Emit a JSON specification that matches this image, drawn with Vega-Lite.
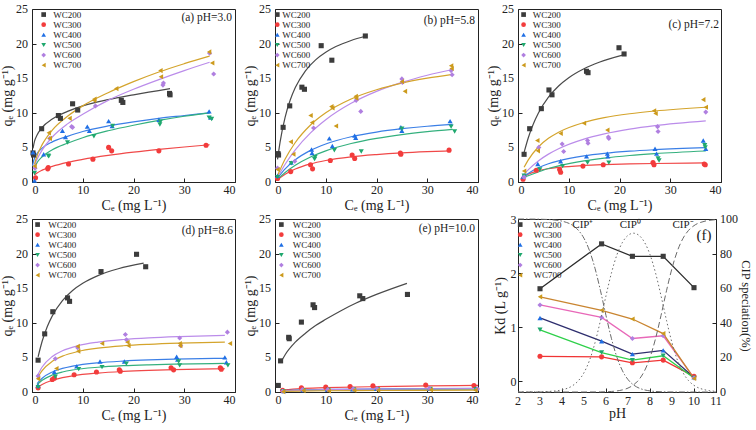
{
"$schema":"https://vega.github.io/schema/vega-lite/v6.json",
"padding":{"left":0,"top":2,"right":0,"bottom":0},
"config":{"font":"Liberation Serif","view":{"stroke":"#222","strokeWidth":1},
"axis":{"grid":false,"domainColor":"#222","tickColor":"#222","tickSize":-4,"labelPadding":6,"labelOverlap":false,"labelFont":"Liberation Serif","labelFontSize":12,"labelColor":"#222","titleFont":"Liberation Serif","titleFontSize":14,"titleFontWeight":"normal","titleColor":"#222","titlePadding":3}},
"datasets":{
"leg":[{"s":"WC200"},{"s":"WC300"},{"s":"WC400"},{"s":"WC500"},{"s":"WC600"},{"s":"WC700"}],
"yt":[{"v":0},{"v":5},{"v":10},{"v":15},{"v":20},{"v":25}],
"xt":[{"v":2},{"v":3},{"v":4},{"v":5},{"v":6},{"v":7},{"v":8},{"v":9},{"v":10},{"v":11}],
"rt":[{"v":0},{"v":20},{"v":40},{"v":60},{"v":80},{"v":100}],
"pts":[
{"p":"a","s":"WC200","x":0.2,"y":4.2},{"p":"a","s":"WC200","x":0.3,"y":3.9},{"p":"a","s":"WC200","x":1.9,"y":7.7},{"p":"a","s":"WC200","x":5.2,"y":9.6},{"p":"a","s":"WC200","x":5.6,"y":9.2},{"p":"a","s":"WC200","x":8.0,"y":11.3},{"p":"a","s":"WC200","x":9.0,"y":10.4},{"p":"a","s":"WC200","x":17.6,"y":11.8},{"p":"a","s":"WC200","x":17.9,"y":11.5},{"p":"a","s":"WC200","x":27.1,"y":12.8},{"p":"a","s":"WC200","x":27.2,"y":12.6},
{"p":"a","s":"WC300","x":0.7,"y":0.6},{"p":"a","s":"WC300","x":3.1,"y":1.9},{"p":"a","s":"WC300","x":3.2,"y":2.1},{"p":"a","s":"WC300","x":7.2,"y":2.6},{"p":"a","s":"WC300","x":12.0,"y":3.3},{"p":"a","s":"WC300","x":15.1,"y":5.0},{"p":"a","s":"WC300","x":15.7,"y":4.5},{"p":"a","s":"WC300","x":25.0,"y":4.5},{"p":"a","s":"WC300","x":34.3,"y":5.3},
{"p":"a","s":"WC400","x":0.2,"y":4.3},{"p":"a","s":"WC400","x":0.5,"y":0.2},{"p":"a","s":"WC400","x":2.3,"y":4.0},{"p":"a","s":"WC400","x":6.0,"y":7.4},{"p":"a","s":"WC400","x":6.6,"y":6.5},{"p":"a","s":"WC400","x":10.9,"y":8.0},{"p":"a","s":"WC400","x":11.3,"y":7.4},{"p":"a","s":"WC400","x":15.1,"y":8.8},{"p":"a","s":"WC400","x":15.8,"y":8.1},{"p":"a","s":"WC400","x":25.0,"y":9.0},{"p":"a","s":"WC400","x":34.9,"y":10.2},{"p":"a","s":"WC400","x":35.2,"y":9.3},
{"p":"a","s":"WC500","x":0.5,"y":1.3},{"p":"a","s":"WC500","x":3.2,"y":3.8},{"p":"a","s":"WC500","x":3.3,"y":3.7},{"p":"a","s":"WC500","x":7.0,"y":5.7},{"p":"a","s":"WC500","x":12.2,"y":6.6},{"p":"a","s":"WC500","x":15.9,"y":8.1},{"p":"a","s":"WC500","x":25.2,"y":8.3},{"p":"a","s":"WC500","x":25.3,"y":8.7},{"p":"a","s":"WC500","x":34.9,"y":9.3},{"p":"a","s":"WC500","x":35.4,"y":9.1},
{"p":"a","s":"WC600","x":0.6,"y":2.0},{"p":"a","s":"WC600","x":3.5,"y":6.3},{"p":"a","s":"WC600","x":7.8,"y":8.0},{"p":"a","s":"WC600","x":8.0,"y":7.9},{"p":"a","s":"WC600","x":12.5,"y":11.0},{"p":"a","s":"WC600","x":25.8,"y":14.0},{"p":"a","s":"WC600","x":25.9,"y":14.3},{"p":"a","s":"WC600","x":35.0,"y":18.6},{"p":"a","s":"WC600","x":35.8,"y":15.6},
{"p":"a","s":"WC700","x":0.5,"y":2.3},{"p":"a","s":"WC700","x":3.3,"y":7.1},{"p":"a","s":"WC700","x":3.5,"y":6.3},{"p":"a","s":"WC700","x":7.4,"y":9.2},{"p":"a","s":"WC700","x":12.2,"y":11.8},{"p":"a","s":"WC700","x":12.3,"y":12.0},{"p":"a","s":"WC700","x":16.6,"y":13.5},{"p":"a","s":"WC700","x":25.3,"y":16.1},{"p":"a","s":"WC700","x":25.4,"y":15.2},{"p":"a","s":"WC700","x":34.9,"y":18.8},{"p":"a","s":"WC700","x":35.5,"y":17.2},
{"p":"b","s":"WC200","x":0.6,"y":4.1},{"p":"b","s":"WC200","x":0.7,"y":3.9},{"p":"b","s":"WC200","x":1.6,"y":7.9},{"p":"b","s":"WC200","x":2.9,"y":11.0},{"p":"b","s":"WC200","x":5.3,"y":13.7},{"p":"b","s":"WC200","x":5.8,"y":13.4},{"p":"b","s":"WC200","x":9.1,"y":19.7},{"p":"b","s":"WC200","x":11.2,"y":17.6},{"p":"b","s":"WC200","x":17.8,"y":21.1},
{"p":"b","s":"WC300","x":0.5,"y":0.5},{"p":"b","s":"WC300","x":3.1,"y":1.5},{"p":"b","s":"WC300","x":7.0,"y":2.5},{"p":"b","s":"WC300","x":7.4,"y":1.9},{"p":"b","s":"WC300","x":10.9,"y":3.1},{"p":"b","s":"WC300","x":15.2,"y":3.9},{"p":"b","s":"WC300","x":15.7,"y":3.4},{"p":"b","s":"WC300","x":24.7,"y":4.2},{"p":"b","s":"WC300","x":24.8,"y":4.0},{"p":"b","s":"WC300","x":34.3,"y":4.6},
{"p":"b","s":"WC400","x":0.5,"y":0.9},{"p":"b","s":"WC400","x":3.2,"y":2.8},{"p":"b","s":"WC400","x":7.2,"y":4.7},{"p":"b","s":"WC400","x":7.3,"y":4.2},{"p":"b","s":"WC400","x":10.7,"y":6.3},{"p":"b","s":"WC400","x":11.3,"y":5.2},{"p":"b","s":"WC400","x":15.7,"y":6.7},{"p":"b","s":"WC400","x":15.9,"y":6.4},{"p":"b","s":"WC400","x":24.8,"y":7.9},{"p":"b","s":"WC400","x":25.0,"y":7.4},{"p":"b","s":"WC400","x":34.5,"y":8.8},
{"p":"b","s":"WC500","x":0.5,"y":0.7},{"p":"b","s":"WC500","x":3.2,"y":2.7},{"p":"b","s":"WC500","x":7.8,"y":3.3},{"p":"b","s":"WC500","x":7.9,"y":3.6},{"p":"b","s":"WC500","x":11.7,"y":4.6},{"p":"b","s":"WC500","x":17.0,"y":4.4},{"p":"b","s":"WC500","x":25.0,"y":7.7},{"p":"b","s":"WC500","x":34.7,"y":8.0},{"p":"b","s":"WC500","x":35.4,"y":7.3},
{"p":"b","s":"WC600","x":0.5,"y":2.0},{"p":"b","s":"WC600","x":3.9,"y":3.0},{"p":"b","s":"WC600","x":7.6,"y":7.8},{"p":"b","s":"WC600","x":16.0,"y":11.8},{"p":"b","s":"WC600","x":16.9,"y":10.2},{"p":"b","s":"WC600","x":25.0,"y":14.9},{"p":"b","s":"WC600","x":25.1,"y":14.4},{"p":"b","s":"WC600","x":34.7,"y":16.1},{"p":"b","s":"WC600","x":34.9,"y":15.5},
{"p":"b","s":"WC700","x":0.5,"y":1.8},{"p":"b","s":"WC700","x":3.1,"y":5.8},{"p":"b","s":"WC700","x":3.6,"y":4.0},{"p":"b","s":"WC700","x":7.0,"y":9.6},{"p":"b","s":"WC700","x":7.3,"y":8.6},{"p":"b","s":"WC700","x":11.1,"y":10.9},{"p":"b","s":"WC700","x":11.3,"y":10.7},{"p":"b","s":"WC700","x":12.0,"y":8.1},{"p":"b","s":"WC700","x":15.9,"y":12.4},{"p":"b","s":"WC700","x":16.0,"y":12.1},{"p":"b","s":"WC700","x":25.0,"y":14.5},{"p":"b","s":"WC700","x":25.6,"y":13.1},{"p":"b","s":"WC700","x":34.7,"y":16.8},{"p":"b","s":"WC700","x":34.8,"y":16.4},
{"p":"c","s":"WC200","x":1.2,"y":4.0},{"p":"c","s":"WC200","x":2.3,"y":7.7},{"p":"c","s":"WC200","x":4.6,"y":10.6},{"p":"c","s":"WC200","x":6.1,"y":13.3},{"p":"c","s":"WC200","x":6.7,"y":12.6},{"p":"c","s":"WC200","x":13.5,"y":16.0},{"p":"c","s":"WC200","x":13.8,"y":15.8},{"p":"c","s":"WC200","x":19.9,"y":19.4},{"p":"c","s":"WC200","x":20.9,"y":18.5},
{"p":"c","s":"WC300","x":1.0,"y":0.4},{"p":"c","s":"WC300","x":3.6,"y":1.7},{"p":"c","s":"WC300","x":8.2,"y":1.8},{"p":"c","s":"WC300","x":8.4,"y":1.4},{"p":"c","s":"WC300","x":12.8,"y":2.3},{"p":"c","s":"WC300","x":16.8,"y":2.5},{"p":"c","s":"WC300","x":26.6,"y":2.8},{"p":"c","s":"WC300","x":26.8,"y":2.5},{"p":"c","s":"WC300","x":36.7,"y":2.6},{"p":"c","s":"WC300","x":36.9,"y":2.5},
{"p":"c","s":"WC400","x":1.0,"y":0.8},{"p":"c","s":"WC400","x":3.9,"y":2.6},{"p":"c","s":"WC400","x":8.4,"y":3.0},{"p":"c","s":"WC400","x":13.5,"y":3.7},{"p":"c","s":"WC400","x":17.6,"y":4.1},{"p":"c","s":"WC400","x":17.7,"y":3.7},{"p":"c","s":"WC400","x":27.0,"y":4.8},{"p":"c","s":"WC400","x":27.3,"y":4.1},{"p":"c","s":"WC400","x":36.5,"y":6.0},{"p":"c","s":"WC400","x":37.0,"y":4.8},
{"p":"c","s":"WC500","x":1.2,"y":0.9},{"p":"c","s":"WC500","x":4.3,"y":1.8},{"p":"c","s":"WC500","x":8.8,"y":2.3},{"p":"c","s":"WC500","x":13.7,"y":2.8},{"p":"c","s":"WC500","x":17.9,"y":2.8},{"p":"c","s":"WC500","x":27.6,"y":3.4},{"p":"c","s":"WC500","x":27.8,"y":3.1},{"p":"c","s":"WC500","x":36.8,"y":5.3},{"p":"c","s":"WC500","x":36.9,"y":5.0},
{"p":"c","s":"WC600","x":1.2,"y":0.7},{"p":"c","s":"WC600","x":4.1,"y":5.0},{"p":"c","s":"WC600","x":8.7,"y":5.5},{"p":"c","s":"WC600","x":9.0,"y":4.4},{"p":"c","s":"WC600","x":13.7,"y":6.0},{"p":"c","s":"WC600","x":13.8,"y":5.6},{"p":"c","s":"WC600","x":17.8,"y":6.5},{"p":"c","s":"WC600","x":17.9,"y":6.3},{"p":"c","s":"WC600","x":27.5,"y":8.0},{"p":"c","s":"WC600","x":27.6,"y":7.3},{"p":"c","s":"WC600","x":37.0,"y":10.1},
{"p":"c","s":"WC700","x":1.2,"y":1.6},{"p":"c","s":"WC700","x":3.8,"y":6.0},{"p":"c","s":"WC700","x":3.9,"y":4.5},{"p":"c","s":"WC700","x":8.4,"y":7.0},{"p":"c","s":"WC700","x":13.0,"y":8.5},{"p":"c","s":"WC700","x":17.6,"y":7.5},{"p":"c","s":"WC700","x":26.8,"y":10.3},{"p":"c","s":"WC700","x":27.1,"y":9.9},{"p":"c","s":"WC700","x":36.5,"y":11.9},{"p":"c","s":"WC700","x":37.0,"y":10.8},
{"p":"d","s":"WC200","x":1.2,"y":4.6},{"p":"d","s":"WC200","x":2.5,"y":8.4},{"p":"d","s":"WC200","x":4.1,"y":11.6},{"p":"d","s":"WC200","x":7.0,"y":13.6},{"p":"d","s":"WC200","x":7.4,"y":13.1},{"p":"d","s":"WC200","x":13.6,"y":17.4},{"p":"d","s":"WC200","x":20.6,"y":19.9},{"p":"d","s":"WC200","x":22.4,"y":18.1},
{"p":"d","s":"WC300","x":1.2,"y":0.6},{"p":"d","s":"WC300","x":4.0,"y":1.8},{"p":"d","s":"WC300","x":4.4,"y":2.0},{"p":"d","s":"WC300","x":8.3,"y":2.5},{"p":"d","s":"WC300","x":12.7,"y":2.9},{"p":"d","s":"WC300","x":17.2,"y":3.2},{"p":"d","s":"WC300","x":17.4,"y":3.0},{"p":"d","s":"WC300","x":27.4,"y":3.5},{"p":"d","s":"WC300","x":27.9,"y":3.2},{"p":"d","s":"WC300","x":37.1,"y":3.5},{"p":"d","s":"WC300","x":37.3,"y":3.3},
{"p":"d","s":"WC400","x":1.2,"y":0.95},{"p":"d","s":"WC400","x":4.4,"y":2.9},{"p":"d","s":"WC400","x":8.8,"y":3.7},{"p":"d","s":"WC400","x":13.4,"y":4.4},{"p":"d","s":"WC400","x":18.2,"y":4.4},{"p":"d","s":"WC400","x":28.5,"y":5.1},{"p":"d","s":"WC400","x":28.7,"y":4.7},{"p":"d","s":"WC400","x":38.0,"y":5.0},{"p":"d","s":"WC400","x":38.3,"y":4.3},
{"p":"d","s":"WC500","x":1.2,"y":0.7},{"p":"d","s":"WC500","x":4.6,"y":2.2},{"p":"d","s":"WC500","x":9.2,"y":3.3},{"p":"d","s":"WC500","x":13.8,"y":3.6},{"p":"d","s":"WC500","x":18.6,"y":4.1},{"p":"d","s":"WC500","x":28.9,"y":4.4},{"p":"d","s":"WC500","x":29.1,"y":3.85},{"p":"d","s":"WC500","x":38.6,"y":3.85},
{"p":"d","s":"WC600","x":1.2,"y":2.3},{"p":"d","s":"WC600","x":4.6,"y":4.8},{"p":"d","s":"WC600","x":9.0,"y":6.4},{"p":"d","s":"WC600","x":18.4,"y":8.3},{"p":"d","s":"WC600","x":18.6,"y":7.55},{"p":"d","s":"WC600","x":29.1,"y":7.8},{"p":"d","s":"WC600","x":29.3,"y":6.7},{"p":"d","s":"WC600","x":38.5,"y":8.65},
{"p":"d","s":"WC700","x":1.2,"y":1.9},{"p":"d","s":"WC700","x":4.8,"y":3.4},{"p":"d","s":"WC700","x":9.0,"y":6.6},{"p":"d","s":"WC700","x":9.1,"y":5.9},{"p":"d","s":"WC700","x":13.8,"y":7.0},{"p":"d","s":"WC700","x":18.8,"y":7.2},{"p":"d","s":"WC700","x":19.0,"y":6.7},{"p":"d","s":"WC700","x":29.1,"y":7.0},{"p":"d","s":"WC700","x":29.2,"y":6.7},{"p":"d","s":"WC700","x":39.0,"y":7.0},
{"p":"e","s":"WC200","x":0.65,"y":0.95},{"p":"e","s":"WC200","x":1.1,"y":4.5},{"p":"e","s":"WC200","x":2.7,"y":7.9},{"p":"e","s":"WC200","x":2.8,"y":7.7},{"p":"e","s":"WC200","x":5.2,"y":10.1},{"p":"e","s":"WC200","x":7.5,"y":12.6},{"p":"e","s":"WC200","x":7.8,"y":12.2},{"p":"e","s":"WC200","x":16.7,"y":13.9},{"p":"e","s":"WC200","x":17.3,"y":13.5},{"p":"e","s":"WC200","x":26.1,"y":14.1},
{"p":"e","s":"WC300","x":1.5,"y":0.25},{"p":"e","s":"WC300","x":5.2,"y":0.6},{"p":"e","s":"WC300","x":10.0,"y":0.7},{"p":"e","s":"WC300","x":14.8,"y":0.8},{"p":"e","s":"WC300","x":19.3,"y":0.9},{"p":"e","s":"WC300","x":29.7,"y":1.0},{"p":"e","s":"WC300","x":39.2,"y":0.95},
{"p":"e","s":"WC400","x":1.7,"y":0.15},{"p":"e","s":"WC400","x":5.5,"y":0.3},{"p":"e","s":"WC400","x":10.3,"y":0.35},{"p":"e","s":"WC400","x":15.3,"y":0.4},{"p":"e","s":"WC400","x":20.0,"y":0.45},{"p":"e","s":"WC400","x":30.5,"y":0.5},{"p":"e","s":"WC400","x":39.7,"y":0.5},
{"p":"e","s":"WC500","x":1.6,"y":0.1},{"p":"e","s":"WC500","x":5.6,"y":0.25},{"p":"e","s":"WC500","x":10.5,"y":0.3},{"p":"e","s":"WC500","x":15.5,"y":0.35},{"p":"e","s":"WC500","x":20.2,"y":0.4},{"p":"e","s":"WC500","x":30.6,"y":0.45},{"p":"e","s":"WC500","x":39.6,"y":0.4},
{"p":"e","s":"WC600","x":1.5,"y":0.1},{"p":"e","s":"WC600","x":5.4,"y":0.35},{"p":"e","s":"WC600","x":10.4,"y":0.35},{"p":"e","s":"WC600","x":15.4,"y":0.45},{"p":"e","s":"WC600","x":20.1,"y":0.5},{"p":"e","s":"WC600","x":30.4,"y":0.55},{"p":"e","s":"WC600","x":39.9,"y":0.45},
{"p":"e","s":"WC700","x":1.6,"y":0.05},{"p":"e","s":"WC700","x":5.6,"y":0.2},{"p":"e","s":"WC700","x":10.6,"y":0.15},{"p":"e","s":"WC700","x":15.6,"y":0.25},{"p":"e","s":"WC700","x":20.3,"y":0.25},{"p":"e","s":"WC700","x":30.7,"y":0.3},{"p":"e","s":"WC700","x":39.5,"y":0.25}
],
"fit":[
{"p":"a","s":"WC200","x":0.2,"y":4.85},{"p":"a","s":"WC200","x":0.5,"y":5.9},{"p":"a","s":"WC200","x":1,"y":6.8},{"p":"a","s":"WC200","x":2,"y":7.9},{"p":"a","s":"WC200","x":4,"y":9.1},{"p":"a","s":"WC200","x":7,"y":10.2},{"p":"a","s":"WC200","x":10,"y":11.0},{"p":"a","s":"WC200","x":15,"y":11.9},{"p":"a","s":"WC200","x":20,"y":12.6},{"p":"a","s":"WC200","x":27.2,"y":13.5},
{"p":"a","s":"WC300","x":0.5,"y":0.99},{"p":"a","s":"WC300","x":1,"y":1.3},{"p":"a","s":"WC300","x":2,"y":1.72},{"p":"a","s":"WC300","x":4,"y":2.26},{"p":"a","s":"WC300","x":7,"y":2.84},{"p":"a","s":"WC300","x":10,"y":3.27},{"p":"a","s":"WC300","x":15,"y":3.84},{"p":"a","s":"WC300","x":20,"y":4.31},{"p":"a","s":"WC300","x":25,"y":4.71},{"p":"a","s":"WC300","x":30,"y":5.06},{"p":"a","s":"WC300","x":35,"y":5.38},
{"p":"a","s":"WC400","x":0.1,"y":2.3},{"p":"a","s":"WC400","x":0.3,"y":3.0},{"p":"a","s":"WC400","x":1,"y":4.1},{"p":"a","s":"WC400","x":2,"y":4.9},{"p":"a","s":"WC400","x":4,"y":5.8},{"p":"a","s":"WC400","x":7,"y":6.6},{"p":"a","s":"WC400","x":10,"y":7.3},{"p":"a","s":"WC400","x":15,"y":8.1},{"p":"a","s":"WC400","x":20,"y":8.7},{"p":"a","s":"WC400","x":25,"y":9.2},{"p":"a","s":"WC400","x":30,"y":9.6},{"p":"a","s":"WC400","x":35,"y":10.0},
{"p":"a","s":"WC500","x":0.5,"y":2.1},{"p":"a","s":"WC500","x":1,"y":2.8},{"p":"a","s":"WC500","x":2,"y":3.65},{"p":"a","s":"WC500","x":4,"y":4.66},{"p":"a","s":"WC500","x":7,"y":5.6},{"p":"a","s":"WC500","x":10,"y":6.4},{"p":"a","s":"WC500","x":15,"y":7.4},{"p":"a","s":"WC500","x":20,"y":8.2},{"p":"a","s":"WC500","x":25,"y":8.9},{"p":"a","s":"WC500","x":30,"y":9.5},{"p":"a","s":"WC500","x":35,"y":10.0},
{"p":"a","s":"WC600","x":0.5,"y":2.4},{"p":"a","s":"WC600","x":1,"y":3.3},{"p":"a","s":"WC600","x":2,"y":4.6},{"p":"a","s":"WC600","x":4,"y":6.5},{"p":"a","s":"WC600","x":7,"y":8.4},{"p":"a","s":"WC600","x":10,"y":9.8},{"p":"a","s":"WC600","x":15,"y":11.8},{"p":"a","s":"WC600","x":20,"y":13.4},{"p":"a","s":"WC600","x":25,"y":14.8},{"p":"a","s":"WC600","x":30,"y":16.1},{"p":"a","s":"WC600","x":35,"y":17.3},
{"p":"a","s":"WC700","x":0.5,"y":2.6},{"p":"a","s":"WC700","x":1,"y":3.8},{"p":"a","s":"WC700","x":2,"y":5.4},{"p":"a","s":"WC700","x":4,"y":7.5},{"p":"a","s":"WC700","x":7,"y":9.5},{"p":"a","s":"WC700","x":10,"y":11.0},{"p":"a","s":"WC700","x":15,"y":12.9},{"p":"a","s":"WC700","x":20,"y":14.5},{"p":"a","s":"WC700","x":25,"y":15.9},{"p":"a","s":"WC700","x":30,"y":17.1},{"p":"a","s":"WC700","x":35,"y":18.2},
{"p":"b","s":"WC200","x":0.5,"y":3.26},{"p":"b","s":"WC200","x":1,"y":5.77},{"p":"b","s":"WC200","x":2,"y":9.38},{"p":"b","s":"WC200","x":3,"y":11.84},{"p":"b","s":"WC200","x":4,"y":13.64},{"p":"b","s":"WC200","x":6,"y":16.07},{"p":"b","s":"WC200","x":8,"y":17.65},{"p":"b","s":"WC200","x":10,"y":18.75},{"p":"b","s":"WC200","x":12,"y":19.57},{"p":"b","s":"WC200","x":15,"y":20.45},{"p":"b","s":"WC200","x":17.8,"y":21.06},
{"p":"b","s":"WC300","x":0.5,"y":0.34},{"p":"b","s":"WC300","x":2,"y":1.13},{"p":"b","s":"WC300","x":4,"y":1.88},{"p":"b","s":"WC300","x":7,"y":2.62},{"p":"b","s":"WC300","x":10,"y":3.11},{"p":"b","s":"WC300","x":15,"y":3.64},{"p":"b","s":"WC300","x":20,"y":3.97},{"p":"b","s":"WC300","x":25,"y":4.21},{"p":"b","s":"WC300","x":30,"y":4.38},{"p":"b","s":"WC300","x":34.5,"y":4.5},
{"p":"b","s":"WC400","x":0.5,"y":0.55},{"p":"b","s":"WC400","x":2,"y":1.89},{"p":"b","s":"WC400","x":4,"y":3.21},{"p":"b","s":"WC400","x":7,"y":4.57},{"p":"b","s":"WC400","x":10,"y":5.5},{"p":"b","s":"WC400","x":15,"y":6.54},{"p":"b","s":"WC400","x":20,"y":7.22},{"p":"b","s":"WC400","x":25,"y":7.7},{"p":"b","s":"WC400","x":30,"y":8.06},{"p":"b","s":"WC400","x":35,"y":8.33},
{"p":"b","s":"WC500","x":0.5,"y":0.38},{"p":"b","s":"WC500","x":2,"y":1.37},{"p":"b","s":"WC500","x":4,"y":2.42},{"p":"b","s":"WC500","x":7,"y":3.61},{"p":"b","s":"WC500","x":10,"y":4.5},{"p":"b","s":"WC500","x":15,"y":5.56},{"p":"b","s":"WC500","x":20,"y":6.3},{"p":"b","s":"WC500","x":25,"y":6.85},{"p":"b","s":"WC500","x":30,"y":7.27},{"p":"b","s":"WC500","x":35,"y":7.6},
{"p":"b","s":"WC600","x":0.5,"y":0.7},{"p":"b","s":"WC600","x":2,"y":2.57},{"p":"b","s":"WC600","x":4,"y":4.65},{"p":"b","s":"WC600","x":7,"y":7.1},{"p":"b","s":"WC600","x":10,"y":9.0},{"p":"b","s":"WC600","x":15,"y":11.37},{"p":"b","s":"WC600","x":20,"y":13.1},{"p":"b","s":"WC600","x":25,"y":14.4},{"p":"b","s":"WC600","x":30,"y":15.43},{"p":"b","s":"WC600","x":35,"y":16.26},
{"p":"b","s":"WC700","x":0.5,"y":0.95},{"p":"b","s":"WC700","x":2,"y":3.33},{"p":"b","s":"WC700","x":4,"y":5.71},{"p":"b","s":"WC700","x":7,"y":8.24},{"p":"b","s":"WC700","x":10,"y":10.0},{"p":"b","s":"WC700","x":15,"y":12.0},{"p":"b","s":"WC700","x":20,"y":13.33},{"p":"b","s":"WC700","x":25,"y":14.29},{"p":"b","s":"WC700","x":30,"y":15.0},{"p":"b","s":"WC700","x":35,"y":15.56},
{"p":"c","s":"WC200","x":1.2,"y":4.27},{"p":"c","s":"WC200","x":2,"y":6.33},{"p":"c","s":"WC200","x":3,"y":8.35},{"p":"c","s":"WC200","x":4,"y":9.93},{"p":"c","s":"WC200","x":6,"y":12.25},{"p":"c","s":"WC200","x":8,"y":13.87},{"p":"c","s":"WC200","x":10,"y":15.07},{"p":"c","s":"WC200","x":13,"y":16.37},{"p":"c","s":"WC200","x":16,"y":17.3},{"p":"c","s":"WC200","x":20.8,"y":18.36},
{"p":"c","s":"WC300","x":1,"y":0.69},{"p":"c","s":"WC300","x":2,"y":1.13},{"p":"c","s":"WC300","x":4,"y":1.64},{"p":"c","s":"WC300","x":6,"y":1.93},{"p":"c","s":"WC300","x":8,"y":2.12},{"p":"c","s":"WC300","x":13,"y":2.39},{"p":"c","s":"WC300","x":17,"y":2.51},{"p":"c","s":"WC300","x":22,"y":2.61},{"p":"c","s":"WC300","x":27,"y":2.67},{"p":"c","s":"WC300","x":37,"y":2.75},
{"p":"c","s":"WC400","x":1,"y":0.69},{"p":"c","s":"WC400","x":2,"y":1.24},{"p":"c","s":"WC400","x":4,"y":2.05},{"p":"c","s":"WC400","x":6,"y":2.63},{"p":"c","s":"WC400","x":8,"y":3.06},{"p":"c","s":"WC400","x":13,"y":3.77},{"p":"c","s":"WC400","x":17,"y":4.13},{"p":"c","s":"WC400","x":22,"y":4.45},{"p":"c","s":"WC400","x":27,"y":4.67},{"p":"c","s":"WC400","x":37,"y":4.97},
{"p":"c","s":"WC500","x":1,"y":0.6},{"p":"c","s":"WC500","x":2,"y":0.9},{"p":"c","s":"WC500","x":4,"y":1.45},{"p":"c","s":"WC500","x":6,"y":1.95},{"p":"c","s":"WC500","x":8,"y":2.34},{"p":"c","s":"WC500","x":13,"y":3.06},{"p":"c","s":"WC500","x":17,"y":3.46},{"p":"c","s":"WC500","x":22,"y":3.83},{"p":"c","s":"WC500","x":27,"y":4.1},{"p":"c","s":"WC500","x":37,"y":4.48},
{"p":"c","s":"WC600","x":1,"y":0.95},{"p":"c","s":"WC600","x":2,"y":1.75},{"p":"c","s":"WC600","x":4,"y":3.04},{"p":"c","s":"WC600","x":6,"y":4.03},{"p":"c","s":"WC600","x":8,"y":4.81},{"p":"c","s":"WC600","x":13,"y":6.2},{"p":"c","s":"WC600","x":17,"y":6.95},{"p":"c","s":"WC600","x":22,"y":7.64},{"p":"c","s":"WC600","x":27,"y":8.15},{"p":"c","s":"WC600","x":37,"y":8.84},
{"p":"c","s":"WC700","x":1.2,"y":2.12},{"p":"c","s":"WC700","x":2,"y":3.17},{"p":"c","s":"WC700","x":4,"y":5.06},{"p":"c","s":"WC700","x":6,"y":6.31},{"p":"c","s":"WC700","x":8,"y":7.2},{"p":"c","s":"WC700","x":13,"y":8.6},{"p":"c","s":"WC700","x":17,"y":9.29},{"p":"c","s":"WC700","x":22,"y":9.86},{"p":"c","s":"WC700","x":27,"y":10.26},{"p":"c","s":"WC700","x":37,"y":10.8},
{"p":"d","s":"WC200","x":1.2,"y":5.08},{"p":"d","s":"WC200","x":2,"y":7.33},{"p":"d","s":"WC200","x":3,"y":9.43},{"p":"d","s":"WC200","x":4,"y":11.0},{"p":"d","s":"WC200","x":6,"y":13.2},{"p":"d","s":"WC200","x":8,"y":14.67},{"p":"d","s":"WC200","x":10,"y":15.71},{"p":"d","s":"WC200","x":13,"y":16.82},{"p":"d","s":"WC200","x":17,"y":17.81},{"p":"d","s":"WC200","x":22,"y":18.62},
{"p":"d","s":"WC300","x":1,"y":0.63},{"p":"d","s":"WC300","x":2,"y":1.09},{"p":"d","s":"WC300","x":4,"y":1.69},{"p":"d","s":"WC300","x":6,"y":2.07},{"p":"d","s":"WC300","x":8,"y":2.34},{"p":"d","s":"WC300","x":13,"y":2.74},{"p":"d","s":"WC300","x":18,"y":2.97},{"p":"d","s":"WC300","x":23,"y":3.12},{"p":"d","s":"WC300","x":28,"y":3.22},{"p":"d","s":"WC300","x":38,"y":3.36},
{"p":"d","s":"WC400","x":1,"y":1.22},{"p":"d","s":"WC400","x":2,"y":1.99},{"p":"d","s":"WC400","x":4,"y":2.89},{"p":"d","s":"WC400","x":6,"y":3.41},{"p":"d","s":"WC400","x":8,"y":3.74},{"p":"d","s":"WC400","x":13,"y":4.22},{"p":"d","s":"WC400","x":18,"y":4.47},{"p":"d","s":"WC400","x":23,"y":4.63},{"p":"d","s":"WC400","x":28,"y":4.74},{"p":"d","s":"WC400","x":38,"y":4.87},
{"p":"d","s":"WC500","x":1,"y":1.04},{"p":"d","s":"WC500","x":2,"y":1.69},{"p":"d","s":"WC500","x":4,"y":2.45},{"p":"d","s":"WC500","x":6,"y":2.89},{"p":"d","s":"WC500","x":8,"y":3.18},{"p":"d","s":"WC500","x":13,"y":3.58},{"p":"d","s":"WC500","x":18,"y":3.8},{"p":"d","s":"WC500","x":23,"y":3.93},{"p":"d","s":"WC500","x":28,"y":4.02},{"p":"d","s":"WC500","x":38,"y":4.14},
{"p":"d","s":"WC600","x":1,"y":2.28},{"p":"d","s":"WC600","x":2,"y":3.62},{"p":"d","s":"WC600","x":4,"y":5.13},{"p":"d","s":"WC600","x":6,"y":5.96},{"p":"d","s":"WC600","x":9,"y":6.68},{"p":"d","s":"WC600","x":13,"y":7.21},{"p":"d","s":"WC600","x":18,"y":7.59},{"p":"d","s":"WC600","x":23,"y":7.83},{"p":"d","s":"WC600","x":29,"y":8.01},{"p":"d","s":"WC600","x":38,"y":8.18},
{"p":"d","s":"WC700","x":1,"y":1.94},{"p":"d","s":"WC700","x":2,"y":3.1},{"p":"d","s":"WC700","x":4,"y":4.44},{"p":"d","s":"WC700","x":6,"y":5.18},{"p":"d","s":"WC700","x":9,"y":5.84},{"p":"d","s":"WC700","x":13,"y":6.33},{"p":"d","s":"WC700","x":18,"y":6.68},{"p":"d","s":"WC700","x":23,"y":6.89},{"p":"d","s":"WC700","x":29,"y":7.06},{"p":"d","s":"WC700","x":38,"y":7.22},
{"p":"e","s":"WC200","x":1.1,"y":4.2},{"p":"e","s":"WC200","x":2,"y":5.39},{"p":"e","s":"WC200","x":4,"y":7.2},{"p":"e","s":"WC200","x":6,"y":8.5},{"p":"e","s":"WC200","x":8,"y":9.6},{"p":"e","s":"WC200","x":10,"y":10.5},{"p":"e","s":"WC200","x":13,"y":11.75},{"p":"e","s":"WC200","x":16,"y":12.85},{"p":"e","s":"WC200","x":20,"y":14.1},{"p":"e","s":"WC200","x":26,"y":15.7},
{"p":"e","s":"WC300","x":1.5,"y":0.3},{"p":"e","s":"WC300","x":5,"y":0.5},{"p":"e","s":"WC300","x":10,"y":0.62},{"p":"e","s":"WC300","x":20,"y":0.78},{"p":"e","s":"WC300","x":30,"y":0.88},{"p":"e","s":"WC300","x":40,"y":0.95},
{"p":"e","s":"WC400","x":1.5,"y":0.2},{"p":"e","s":"WC400","x":10,"y":0.38},{"p":"e","s":"WC400","x":20,"y":0.45},{"p":"e","s":"WC400","x":40,"y":0.52},
{"p":"e","s":"WC500","x":1.5,"y":0.15},{"p":"e","s":"WC500","x":10,"y":0.3},{"p":"e","s":"WC500","x":20,"y":0.36},{"p":"e","s":"WC500","x":40,"y":0.42},
{"p":"e","s":"WC600","x":1.5,"y":0.15},{"p":"e","s":"WC600","x":10,"y":0.35},{"p":"e","s":"WC600","x":20,"y":0.42},{"p":"e","s":"WC600","x":40,"y":0.5},
{"p":"e","s":"WC700","x":1.5,"y":0.1},{"p":"e","s":"WC700","x":10,"y":0.18},{"p":"e","s":"WC700","x":20,"y":0.22},{"p":"e","s":"WC700","x":40,"y":0.27}
],
"kd":[
{"s":"WC200","pH":3.0,"kd":1.71},{"s":"WC200","pH":5.8,"kd":2.54},{"s":"WC200","pH":7.2,"kd":2.31},{"s":"WC200","pH":8.6,"kd":2.31},{"s":"WC200","pH":10.0,"kd":1.73},
{"s":"WC300","pH":3.0,"kd":0.46},{"s":"WC300","pH":5.8,"kd":0.45},{"s":"WC300","pH":7.2,"kd":0.34},{"s":"WC300","pH":8.6,"kd":0.39},{"s":"WC300","pH":10.0,"kd":0.09},
{"s":"WC400","pH":3.0,"kd":1.17},{"s":"WC400","pH":5.8,"kd":0.74},{"s":"WC400","pH":7.2,"kd":0.50},{"s":"WC400","pH":8.6,"kd":0.57},{"s":"WC400","pH":10.0,"kd":0.07},
{"s":"WC500","pH":3.0,"kd":0.95},{"s":"WC500","pH":5.8,"kd":0.53},{"s":"WC500","pH":7.2,"kd":0.39},{"s":"WC500","pH":8.6,"kd":0.47},{"s":"WC500","pH":10.0,"kd":0.06},
{"s":"WC600","pH":3.0,"kd":1.41},{"s":"WC600","pH":5.8,"kd":1.18},{"s":"WC600","pH":7.2,"kd":0.79},{"s":"WC600","pH":8.6,"kd":0.84},{"s":"WC600","pH":10.0,"kd":0.06},
{"s":"WC700","pH":3.0,"kd":1.56},{"s":"WC700","pH":5.8,"kd":1.31},{"s":"WC700","pH":7.2,"kd":1.15},{"s":"WC700","pH":8.6,"kd":0.88},{"s":"WC700","pH":10.0,"kd":0.05}
],
"spec":[
{"pH":2.0,"p":99.99,"z":0.01,"m":0},{"pH":2.5,"p":99.96,"z":0.04,"m":0},{"pH":3.0,"p":99.87,"z":0.13,"m":0},{"pH":3.5,"p":99.6,"z":0.4,"m":0},{"pH":4.0,"p":98.76,"z":1.24,"m":0},{"pH":4.5,"p":96.17,"z":3.83,"m":0},{"pH":4.75,"p":93.39,"z":6.61,"m":0},{"pH":5.0,"p":88.82,"z":11.18,"m":0},{"pH":5.25,"p":81.7,"z":18.29,"m":0.01},{"pH":5.5,"p":71.5,"z":28.48,"m":0.02},{"pH":5.75,"p":58.52,"z":41.42,"m":0.06},{"pH":6.0,"p":44.2,"z":55.65,"m":0.14},{"pH":6.25,"p":30.78,"z":68.91,"m":0.31},{"pH":6.5,"p":19.95,"z":79.42,"m":0.63},{"pH":6.75,"p":12.23,"z":86.55,"m":1.22},{"pH":7.0,"p":7.19,"z":90.53,"m":2.27},{"pH":7.25,"p":4.1,"z":91.8,"m":4.1},{"pH":7.5,"p":2.27,"z":90.54,"m":7.19},{"pH":7.75,"p":1.22,"z":86.55,"m":12.23},{"pH":8.0,"p":0.63,"z":79.43,"m":19.95},{"pH":8.25,"p":0.31,"z":68.91,"m":30.78},{"pH":8.5,"p":0.14,"z":55.65,"m":44.2},{"pH":8.75,"p":0.06,"z":41.42,"m":58.52},{"pH":9.0,"p":0.02,"z":28.47,"m":71.51},{"pH":9.25,"p":0.01,"z":18.29,"m":81.7},{"pH":9.5,"p":0,"z":11.18,"m":88.82},{"pH":9.75,"p":0,"z":6.61,"m":93.39},{"pH":10.0,"p":0,"z":3.83,"m":96.17},{"pH":10.5,"p":0,"z":1.24,"m":98.76},{"pH":11.0,"p":0,"z":0.4,"m":99.6}
]
},
"columns":3,
"spacing":{"row":37,"column":40},
"bounds":"flush",
"resolve":{"scale":{"color":"independent","shape":"independent","stroke":"independent","strokeDash":"independent"}},
"concat":[
{"width":203,"height":173,"resolve":{"scale":{"y":"independent"}},"layer":[
{"layer":[
{"data":{"name":"fit"},"transform":[{"filter":"datum.p=='a'"}],"mark":{"type":"line","strokeWidth":1.2,"interpolate":"monotone"},"encoding":{"x":{"field":"x","type":"quantitative","scale":{"domain":[0,40],"nice":false},"axis":{"values":[0,10,20,30,40],"title":"Cₑ (mg L⁻¹)"}},"y":{"field":"y","type":"quantitative","scale":{"domain":[0,25],"nice":false},"axis":{"values":[0,5,10,15,20,25],"labels":false,"titlePadding":17,"title":"qₑ (mg g⁻¹)"}},"stroke":{"field":"s","type":"nominal","scale":{"domain":["WC200","WC300","WC400","WC500","WC600","WC700"],"range":["#4a4a4a","#f04848","#3b7fe6","#34b07e","#bb8cea","#d4a42c"]},"legend":null}}},
{"data":{"name":"pts"},"transform":[{"filter":"datum.p=='a'"}],"mark":{"type":"point","filled":true,"size":26,"opacity":1},"encoding":{"x":{"field":"x","type":"quantitative"},"y":{"field":"y","type":"quantitative"},"color":{"field":"s","type":"nominal","scale":{"domain":["WC200","WC300","WC400","WC500","WC600","WC700"],"range":["#3c3c3c","#f23c3c","#1f6fe5","#1fa86e","#b07fe0","#cc9a1c"]},"legend":null},"shape":{"field":"s","type":"nominal","scale":{"domain":["WC200","WC300","WC400","WC500","WC600","WC700"],"range":["square","circle","triangle-up","triangle-down","diamond","triangle-left"]},"legend":null}}},
{"data":{"name":"yt"},"mark":{"type":"text","align":"right","baseline":"middle","dx":-4,"fontSize":12,"color":"#222"},"encoding":{"x":{"datum":0,"type":"quantitative"},"y":{"field":"v","type":"quantitative","title":"qₑ (mg g⁻¹)"},"text":{"field":"v","type":"quantitative"}}},
{"data":{"values":[{"t":"(a) pH=3.0"}]},"mark":{"type":"text","align":"right","baseline":"middle","fontSize":11.5,"color":"#222"},"encoding":{"x":{"datum":39.4,"type":"quantitative"},"y":{"datum":23.7,"type":"quantitative"},"text":{"field":"t"}}}
]},
{"data":{"name":"leg"},"layer":[
{"mark":{"type":"point","filled":true,"size":22,"opacity":1},"encoding":{"x":{"datum":2.3,"type":"quantitative"},"y":{"field":"s","type":"nominal","scale":{"type":"point","domain":["WC200","WC300","WC400","WC500","WC600","WC700","_1","_2","_3","_4","_5","_6","_7","_8","_9","_10","_11"],"padding":0.55},"axis":null},"color":{"field":"s","type":"nominal","legend":null},"shape":{"field":"s","type":"nominal","legend":null}}},
{"mark":{"type":"text","align":"left","baseline":"middle","fontSize":9,"color":"#222"},"encoding":{"x":{"datum":4.2,"type":"quantitative"},"y":{"field":"s","type":"nominal","axis":null},"text":{"field":"s"}}}
]}
]},
{"width":203,"height":173,"resolve":{"scale":{"y":"independent"}},"layer":[
{"layer":[
{"data":{"name":"fit"},"transform":[{"filter":"datum.p=='b'"}],"mark":{"type":"line","strokeWidth":1.2,"interpolate":"monotone"},"encoding":{"x":{"field":"x","type":"quantitative","scale":{"domain":[0,40],"nice":false},"axis":{"values":[0,10,20,30,40],"title":"Cₑ (mg L⁻¹)"}},"y":{"field":"y","type":"quantitative","scale":{"domain":[0,25],"nice":false},"axis":{"values":[0,5,10,15,20,25],"labels":false,"titlePadding":17,"title":"qₑ (mg g⁻¹)"}},"stroke":{"field":"s","type":"nominal","scale":{"domain":["WC200","WC300","WC400","WC500","WC600","WC700"],"range":["#4a4a4a","#f04848","#3b7fe6","#34b07e","#bb8cea","#d4a42c"]},"legend":null}}},
{"data":{"name":"pts"},"transform":[{"filter":"datum.p=='b'"}],"mark":{"type":"point","filled":true,"size":26,"opacity":1},"encoding":{"x":{"field":"x","type":"quantitative"},"y":{"field":"y","type":"quantitative"},"color":{"field":"s","type":"nominal","scale":{"domain":["WC200","WC300","WC400","WC500","WC600","WC700"],"range":["#3c3c3c","#f23c3c","#1f6fe5","#1fa86e","#b07fe0","#cc9a1c"]},"legend":null},"shape":{"field":"s","type":"nominal","scale":{"domain":["WC200","WC300","WC400","WC500","WC600","WC700"],"range":["square","circle","triangle-up","triangle-down","diamond","triangle-left"]},"legend":null}}},
{"data":{"name":"yt"},"mark":{"type":"text","align":"right","baseline":"middle","dx":-4,"fontSize":12,"color":"#222"},"encoding":{"x":{"datum":0,"type":"quantitative"},"y":{"field":"v","type":"quantitative","title":"qₑ (mg g⁻¹)"},"text":{"field":"v","type":"quantitative"}}},
{"data":{"values":[{"t":"(b) pH=5.8"}]},"mark":{"type":"text","align":"right","baseline":"middle","fontSize":11.5,"color":"#222"},"encoding":{"x":{"datum":39.4,"type":"quantitative"},"y":{"datum":23.2,"type":"quantitative"},"text":{"field":"t"}}}
]},
{"data":{"name":"leg"},"layer":[
{"mark":{"type":"point","filled":true,"size":22,"opacity":1},"encoding":{"x":{"datum":0.45,"type":"quantitative"},"y":{"field":"s","type":"nominal","scale":{"type":"point","domain":["WC200","WC300","WC400","WC500","WC600","WC700","_1","_2","_3","_4","_5","_6","_7","_8","_9","_10","_11"],"padding":0.55},"axis":null},"color":{"field":"s","type":"nominal","legend":null},"shape":{"field":"s","type":"nominal","legend":null}}},
{"mark":{"type":"text","align":"left","baseline":"middle","fontSize":9,"color":"#222"},"encoding":{"x":{"datum":1.45,"type":"quantitative"},"y":{"field":"s","type":"nominal","axis":null},"text":{"field":"s"}}}
]}
]},
{"width":203,"height":173,"resolve":{"scale":{"y":"independent"}},"layer":[
{"layer":[
{"data":{"name":"fit"},"transform":[{"filter":"datum.p=='c'"}],"mark":{"type":"line","strokeWidth":1.2,"interpolate":"monotone"},"encoding":{"x":{"field":"x","type":"quantitative","scale":{"domain":[0,40],"nice":false},"axis":{"values":[0,10,20,30,40],"title":"Cₑ (mg L⁻¹)"}},"y":{"field":"y","type":"quantitative","scale":{"domain":[0,25],"nice":false},"axis":{"values":[0,5,10,15,20,25],"labels":false,"titlePadding":17,"title":"qₑ (mg g⁻¹)"}},"stroke":{"field":"s","type":"nominal","scale":{"domain":["WC200","WC300","WC400","WC500","WC600","WC700"],"range":["#4a4a4a","#f04848","#3b7fe6","#34b07e","#bb8cea","#d4a42c"]},"legend":null}}},
{"data":{"name":"pts"},"transform":[{"filter":"datum.p=='c'"}],"mark":{"type":"point","filled":true,"size":26,"opacity":1},"encoding":{"x":{"field":"x","type":"quantitative"},"y":{"field":"y","type":"quantitative"},"color":{"field":"s","type":"nominal","scale":{"domain":["WC200","WC300","WC400","WC500","WC600","WC700"],"range":["#3c3c3c","#f23c3c","#1f6fe5","#1fa86e","#b07fe0","#cc9a1c"]},"legend":null},"shape":{"field":"s","type":"nominal","scale":{"domain":["WC200","WC300","WC400","WC500","WC600","WC700"],"range":["square","circle","triangle-up","triangle-down","diamond","triangle-left"]},"legend":null}}},
{"data":{"name":"yt"},"mark":{"type":"text","align":"right","baseline":"middle","dx":-4,"fontSize":12,"color":"#222"},"encoding":{"x":{"datum":0,"type":"quantitative"},"y":{"field":"v","type":"quantitative","title":"qₑ (mg g⁻¹)"},"text":{"field":"v","type":"quantitative"}}},
{"data":{"values":[{"t":"(c) pH=7.2"}]},"mark":{"type":"text","align":"right","baseline":"middle","fontSize":11.5,"color":"#222"},"encoding":{"x":{"datum":39.6,"type":"quantitative"},"y":{"datum":22.7,"type":"quantitative"},"text":{"field":"t"}}}
]},
{"data":{"name":"leg"},"layer":[
{"mark":{"type":"point","filled":true,"size":22,"opacity":1},"encoding":{"x":{"datum":1.1,"type":"quantitative"},"y":{"field":"s","type":"nominal","scale":{"type":"point","domain":["WC200","WC300","WC400","WC500","WC600","WC700","_1","_2","_3","_4","_5","_6","_7","_8","_9","_10","_11"],"padding":0.55},"axis":null},"color":{"field":"s","type":"nominal","legend":null},"shape":{"field":"s","type":"nominal","legend":null}}},
{"mark":{"type":"text","align":"left","baseline":"middle","fontSize":9,"color":"#222"},"encoding":{"x":{"datum":2.9,"type":"quantitative"},"y":{"field":"s","type":"nominal","axis":null},"text":{"field":"s"}}}
]}
]},
{"width":203,"height":173,"resolve":{"scale":{"y":"independent"}},"layer":[
{"layer":[
{"data":{"name":"fit"},"transform":[{"filter":"datum.p=='d'"}],"mark":{"type":"line","strokeWidth":1.2,"interpolate":"monotone"},"encoding":{"x":{"field":"x","type":"quantitative","scale":{"domain":[0,40],"nice":false},"axis":{"values":[0,10,20,30,40],"title":"Cₑ (mg L⁻¹)"}},"y":{"field":"y","type":"quantitative","scale":{"domain":[0,25],"nice":false},"axis":{"values":[0,5,10,15,20,25],"labels":false,"titlePadding":17,"title":"qₑ (mg g⁻¹)"}},"stroke":{"field":"s","type":"nominal","scale":{"domain":["WC200","WC300","WC400","WC500","WC600","WC700"],"range":["#4a4a4a","#f04848","#3b7fe6","#34b07e","#bb8cea","#d4a42c"]},"legend":null}}},
{"data":{"name":"pts"},"transform":[{"filter":"datum.p=='d'"}],"mark":{"type":"point","filled":true,"size":26,"opacity":1},"encoding":{"x":{"field":"x","type":"quantitative"},"y":{"field":"y","type":"quantitative"},"color":{"field":"s","type":"nominal","scale":{"domain":["WC200","WC300","WC400","WC500","WC600","WC700"],"range":["#3c3c3c","#f23c3c","#1f6fe5","#1fa86e","#b07fe0","#cc9a1c"]},"legend":null},"shape":{"field":"s","type":"nominal","scale":{"domain":["WC200","WC300","WC400","WC500","WC600","WC700"],"range":["square","circle","triangle-up","triangle-down","diamond","triangle-left"]},"legend":null}}},
{"data":{"name":"yt"},"mark":{"type":"text","align":"right","baseline":"middle","dx":-4,"fontSize":12,"color":"#222"},"encoding":{"x":{"datum":0,"type":"quantitative"},"y":{"field":"v","type":"quantitative","title":"qₑ (mg g⁻¹)"},"text":{"field":"v","type":"quantitative"}}},
{"data":{"values":[{"t":"(d) pH=8.6"}]},"mark":{"type":"text","align":"right","baseline":"middle","fontSize":11.5,"color":"#222"},"encoding":{"x":{"datum":39.6,"type":"quantitative"},"y":{"datum":23.3,"type":"quantitative"},"text":{"field":"t"}}}
]},
{"data":{"name":"leg"},"layer":[
{"mark":{"type":"point","filled":true,"size":22,"opacity":1},"encoding":{"x":{"datum":1.1,"type":"quantitative"},"y":{"field":"s","type":"nominal","scale":{"type":"point","domain":["WC200","WC300","WC400","WC500","WC600","WC700","_1","_2","_3","_4","_5","_6","_7","_8","_9","_10","_11"],"padding":0.55},"axis":null},"color":{"field":"s","type":"nominal","legend":null},"shape":{"field":"s","type":"nominal","legend":null}}},
{"mark":{"type":"text","align":"left","baseline":"middle","fontSize":9,"color":"#222"},"encoding":{"x":{"datum":3.2,"type":"quantitative"},"y":{"field":"s","type":"nominal","axis":null},"text":{"field":"s"}}}
]}
]},
{"width":203,"height":173,"resolve":{"scale":{"y":"independent"}},"layer":[
{"layer":[
{"data":{"name":"fit"},"transform":[{"filter":"datum.p=='e'"}],"mark":{"type":"line","strokeWidth":1.2,"interpolate":"monotone"},"encoding":{"x":{"field":"x","type":"quantitative","scale":{"domain":[0,40],"nice":false},"axis":{"values":[0,10,20,30,40],"title":"Cₑ (mg L⁻¹)"}},"y":{"field":"y","type":"quantitative","scale":{"domain":[0,25],"nice":false},"axis":{"values":[0,5,10,15,20,25],"labels":false,"titlePadding":17,"title":"qₑ (mg g⁻¹)"}},"stroke":{"field":"s","type":"nominal","scale":{"domain":["WC200","WC300","WC400","WC500","WC600","WC700"],"range":["#4a4a4a","#f04848","#3b7fe6","#34b07e","#bb8cea","#d4a42c"]},"legend":null}}},
{"data":{"name":"pts"},"transform":[{"filter":"datum.p=='e'"}],"mark":{"type":"point","filled":true,"size":26,"opacity":1},"encoding":{"x":{"field":"x","type":"quantitative"},"y":{"field":"y","type":"quantitative"},"color":{"field":"s","type":"nominal","scale":{"domain":["WC200","WC300","WC400","WC500","WC600","WC700"],"range":["#3c3c3c","#f23c3c","#1f6fe5","#1fa86e","#b07fe0","#cc9a1c"]},"legend":null},"shape":{"field":"s","type":"nominal","scale":{"domain":["WC200","WC300","WC400","WC500","WC600","WC700"],"range":["square","circle","triangle-up","triangle-down","diamond","triangle-left"]},"legend":null}}},
{"data":{"name":"yt"},"mark":{"type":"text","align":"right","baseline":"middle","dx":-4,"fontSize":12,"color":"#222"},"encoding":{"x":{"datum":0,"type":"quantitative"},"y":{"field":"v","type":"quantitative","title":"qₑ (mg g⁻¹)"},"text":{"field":"v","type":"quantitative"}}},
{"data":{"values":[{"t":"(e) pH=10.0"}]},"mark":{"type":"text","align":"right","baseline":"middle","fontSize":11.5,"color":"#222"},"encoding":{"x":{"datum":39.4,"type":"quantitative"},"y":{"datum":23.6,"type":"quantitative"},"text":{"field":"t"}}}
]},
{"data":{"name":"leg"},"layer":[
{"mark":{"type":"point","filled":true,"size":22,"opacity":1},"encoding":{"x":{"datum":1.25,"type":"quantitative"},"y":{"field":"s","type":"nominal","scale":{"type":"point","domain":["WC200","WC300","WC400","WC500","WC600","WC700","_1","_2","_3","_4","_5","_6","_7","_8","_9","_10","_11"],"padding":0.55},"axis":null},"color":{"field":"s","type":"nominal","legend":null},"shape":{"field":"s","type":"nominal","legend":null}}},
{"mark":{"type":"text","align":"left","baseline":"middle","fontSize":9,"color":"#222"},"encoding":{"x":{"datum":3.5,"type":"quantitative"},"y":{"field":"s","type":"nominal","axis":null},"text":{"field":"s"}}}
]}
]},
{"width":198,"height":173,"resolve":{"scale":{"y":"independent"}},"layer":[
{"layer":[
{"data":{"name":"kd"},"mark":{"type":"line","strokeWidth":1.3},"encoding":{"x":{"field":"pH","type":"quantitative","scale":{"domain":[2,11],"nice":false},"axis":{"values":[2,3,4,5,6,7,8,9,10,11],"labels":false,"titlePadding":14,"title":"pH"}},"y":{"field":"kd","type":"quantitative","scale":{"domain":[-0.2,3],"nice":false},"axis":{"values":[0,1,2,3],"format":"d","title":"Kd (L g⁻¹)"}},"stroke":{"field":"s","type":"nominal","scale":{"domain":["WC200","WC300","WC400","WC500","WC600","WC700"],"range":["#2b2b2b","#f03434","#2e2e6e","#2ed04a","#e868b8","#c98530"]},"legend":null}}},
{"data":{"name":"kd"},"mark":{"type":"point","filled":true,"size":26,"opacity":1},"encoding":{"x":{"field":"pH","type":"quantitative"},"y":{"field":"kd","type":"quantitative"},"color":{"field":"s","type":"nominal","scale":{"domain":["WC200","WC300","WC400","WC500","WC600","WC700"],"range":["#3c3c3c","#f23c3c","#1f6fe5","#1fa86e","#b07fe0","#cc9a1c"]},"legend":null},"shape":{"field":"s","type":"nominal","scale":{"domain":["WC200","WC300","WC400","WC500","WC600","WC700"],"range":["square","circle","triangle-up","triangle-down","diamond","triangle-left"]},"legend":null}}},
{"data":{"name":"xt"},"mark":{"type":"text","align":"center","baseline":"top","dy":4,"fontSize":12,"color":"#222"},"encoding":{"x":{"field":"v","type":"quantitative","title":"pH"},"y":{"datum":-0.2,"type":"quantitative"},"text":{"field":"v","type":"quantitative"}}}
]},
{"layer":[
{"data":{"name":"spec"},"transform":[{"fold":["p","z","m"],"as":["sp","f"]}],"mark":{"type":"line","strokeWidth":1,"color":"#6a6a6a","interpolate":"monotone"},"encoding":{"x":{"field":"pH","type":"quantitative"},"y":{"field":"f","type":"quantitative","scale":{"domain":[0,100],"nice":false},"axis":{"orient":"right","values":[0,20,40,60,80,100],"labels":false,"title":"CIP speciation(%)","titleFontSize":12.5,"titlePadding":22}},"strokeDash":{"field":"sp","type":"nominal","scale":{"domain":["p","z","m"],"range":[[6,2,1.5,2],[1.5,2.5],[6,3]]},"legend":null}}},
{"data":{"name":"rt"},"mark":{"type":"text","align":"left","baseline":"middle","dx":4,"fontSize":12,"color":"#222"},"encoding":{"x":{"datum":11,"type":"quantitative"},"y":{"field":"v","type":"quantitative","title":"CIP speciation(%)"},"text":{"field":"v","type":"quantitative"}}},
{"data":{"values":[{"t":"CIP⁺"}]},"mark":{"type":"text","fontSize":11,"color":"#222"},"encoding":{"x":{"datum":4.95,"type":"quantitative"},"y":{"datum":96.5,"type":"quantitative"},"text":{"field":"t"}}},
{"data":{"values":[{"t":"CIP⁰"}]},"mark":{"type":"text","fontSize":11,"color":"#222"},"encoding":{"x":{"datum":7.1,"type":"quantitative"},"y":{"datum":96.5,"type":"quantitative"},"text":{"field":"t"}}},
{"data":{"values":[{"t":"CIP⁻"}]},"mark":{"type":"text","fontSize":11,"color":"#222"},"encoding":{"x":{"datum":9.5,"type":"quantitative"},"y":{"datum":96.5,"type":"quantitative"},"text":{"field":"t"}}},
{"data":{"values":[{"t":"(f)"}]},"mark":{"type":"text","fontSize":15,"color":"#222"},"encoding":{"x":{"datum":10.45,"type":"quantitative"},"y":{"datum":91,"type":"quantitative"},"text":{"field":"t"}}}
]},
{"data":{"name":"leg"},"layer":[
{"mark":{"type":"point","filled":true,"size":22,"opacity":1},"encoding":{"x":{"datum":2.1,"type":"quantitative"},"y":{"field":"s","type":"nominal","scale":{"type":"point","domain":["WC200","WC300","WC400","WC500","WC600","WC700","_1","_2","_3","_4","_5","_6","_7","_8","_9","_10","_11"],"padding":0.55},"axis":null},"color":{"field":"s","type":"nominal","legend":null},"shape":{"field":"s","type":"nominal","legend":null}}},
{"mark":{"type":"text","align":"left","baseline":"middle","fontSize":9,"color":"#222"},"encoding":{"x":{"datum":2.7,"type":"quantitative"},"y":{"field":"s","type":"nominal","axis":null},"text":{"field":"s"}}}
]}
]}
]
}
